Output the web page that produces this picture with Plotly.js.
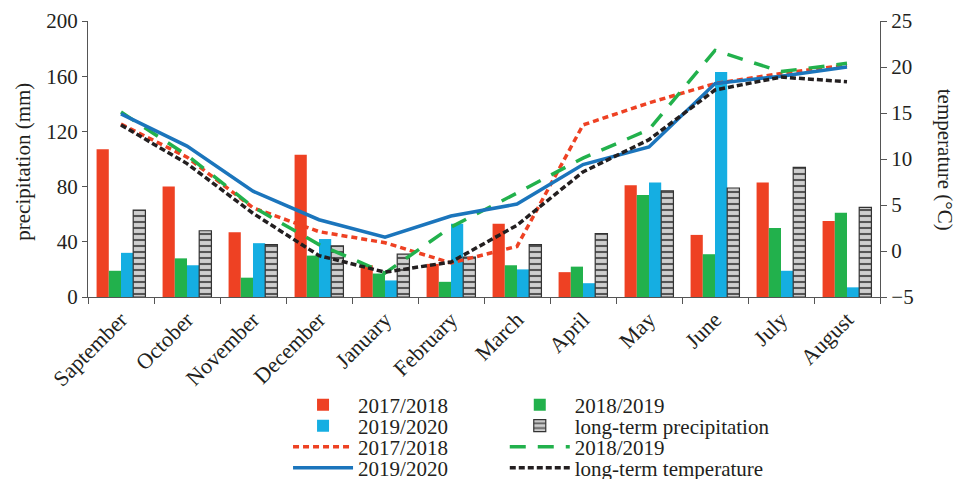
<!DOCTYPE html>
<html>
<head>
<meta charset="utf-8">
<script src="https://cdn.plot.ly/plotly-3.0.1.min.js"></script>
<style>html,body{margin:0;padding:0;background:#fff;}#chart{width:956px;height:479px;}</style>
</head>
<body>
<div id="chart"></div>
<script>
var months = ["Saptember","October","November","December","January","February","March","April","May","June","July","August"];

var precip1718 = [107, 80, 47, 103, 23, 24, 53, 18, 81, 45, 83, 55];
var precip1819 = [19, 28, 14, 30, 17, 11, 23, 22, 74, 31, 50, 61];
var precip1920 = [32, 23, 39, 42, 12, 53, 20, 10, 83, 163, 19, 7];
var precipLT   = [63, 48, 38, 37, 31, 29, 38, 46, 77, 79, 94, 65];

var temp1718 = [13.8, 10.2, 4.7, 2.1, 0.9, -1.3, 0.5, 13.7, 16.1, 18.2, 19.3, 20.2];
var temp1819 = [15.1, 10.4, 4.8, 0.7, -2.4, 2.6, 6.3, 10.1, 13.2, 21.8, 19.5, 20.4];
var temp1920 = [14.9, 11.4, 6.5, 3.4, 1.5, 3.8, 5.1, 9.4, 11.3, 18.2, 19.0, 20.0];
var tempLT   = [13.7, 9.5, 4.1, -0.5, -2.3, -1.2, 2.8, 8.6, 12.1, 17.5, 18.9, 18.4];

var RED = '#EE4123', GREEN = '#22B14C', LBLUE = '#15AEE2', DBLUE = '#1B75BC', BLACK = '#231F20';
var serif = 'Liberation Serif, Times New Roman, serif';

var traces = [
  {type:'bar', x:months, y:precip1718, name:'2017/2018', marker:{color:RED}, legend:'legend2'},
  {type:'bar', x:months, y:precip1819, name:'2018/2019', marker:{color:GREEN}, legend:'legend3'},
  {type:'bar', x:months, y:precip1920, name:'2019/2020', marker:{color:LBLUE}, legend:'legend4'},
  {type:'bar', x:months, y:precipLT, name:'long-term precipitation',
    marker:{color:'#c8c8c8', line:{color:'#333', width:1.2},
      pattern:{shape:'-', fgcolor:'#555', bgcolor:'#cfcfcf', size:6, solidity:0.35}}, legend:'legend5'},
  {type:'scatter', mode:'lines', x:months, y:temp1718, yaxis:'y2', name:'2017/2018',
    line:{color:RED, width:3.5, dash:'6px,4px'}, legend:'legend6'},
  {type:'scatter', mode:'lines', x:months, y:temp1819, yaxis:'y2', name:'2018/2019',
    line:{color:GREEN, width:3.5, dash:'16px,12px'}, legend:'legend7'},
  {type:'scatter', mode:'lines', x:months, y:temp1920, yaxis:'y2', name:'2019/2020',
    line:{color:DBLUE, width:3.5}, legend:'legend8'},
  {type:'scatter', mode:'lines', x:months, y:tempLT, yaxis:'y2', name:'long-term temperature',
    line:{color:BLACK, width:3.5, dash:'6px,3px'}, legend:'legend9'}
];

function leg(x, y) {
  return {orientation:'v', xref:'container', yref:'container', x:x, y:y,
    yanchor:'middle', xanchor:'left', bgcolor:'rgba(0,0,0,0)', borderwidth:0,
    font:{family:serif, size:21, color:'#231F20'}, tracegroupgap:0, itemwidth:60};
}
var colL = 0.3013, colR = 0.528;
var rows = [0.1545, 0.1106, 0.0668, 0.0230];

var layout = {
  width:956, height:479,
  margin:{l:88, r:76, t:21, b:182, autoexpand:false},
  paper_bgcolor:'#fff', plot_bgcolor:'#fff',
  barmode:'group', bargap:0.26, bargroupgap:0,
  font:{family:serif, size:21, color:'#231F20'},
  xaxis:{type:'category', tickangle:-45, ticks:'outside', tickson:'boundaries', ticklen:6,
    showline:true, linecolor:'#555', linewidth:1.2, tickcolor:'#555',
    tickfont:{family:serif, size:22, color:'#231F20'}},
  yaxis:{range:[0,200], tickvals:[0,40,80,120,160,200], ticks:'outside', ticklen:5,
    showline:true, linecolor:'#555', linewidth:1.2, tickcolor:'#555', showgrid:false, zeroline:false,
    tickfont:{family:serif, size:21}},
  yaxis2:{range:[-5,25], tickvals:[-5,0,5,10,15,20,25], overlaying:'y', side:'right', ticks:'outside', ticklen:6,
    showline:true, linecolor:'#555', linewidth:1.2, tickcolor:'#555', showgrid:false, zeroline:false,
    tickfont:{family:serif, size:21}},
  showlegend:true,
  legend2:leg(colL, rows[0]),
  legend3:leg(colR, rows[0]),
  legend4:leg(colL, rows[1]),
  legend5:leg(colR, rows[1]),
  legend6:leg(colL, rows[2]),
  legend7:leg(colR, rows[2]),
  legend8:leg(colL, rows[3]),
  legend9:leg(colR, rows[3]),
  annotations:[
    {text:'precipitation (mm)', xref:'paper', yref:'paper', x:-0.0825, y:0.489, xanchor:'center', yanchor:'middle',
      textangle:-90, showarrow:false, font:{family:serif, size:21, color:'#231F20'}},
    {text:'temperature (°C)', xref:'paper', yref:'paper', x:1.0825, y:0.496, xanchor:'center', yanchor:'middle',
      textangle:90, showarrow:false, font:{family:serif, size:21, color:'#231F20'}}]
};

Plotly.newPlot('chart', traces, layout, {displayModeBar:false});
</script>
</body>
</html>
